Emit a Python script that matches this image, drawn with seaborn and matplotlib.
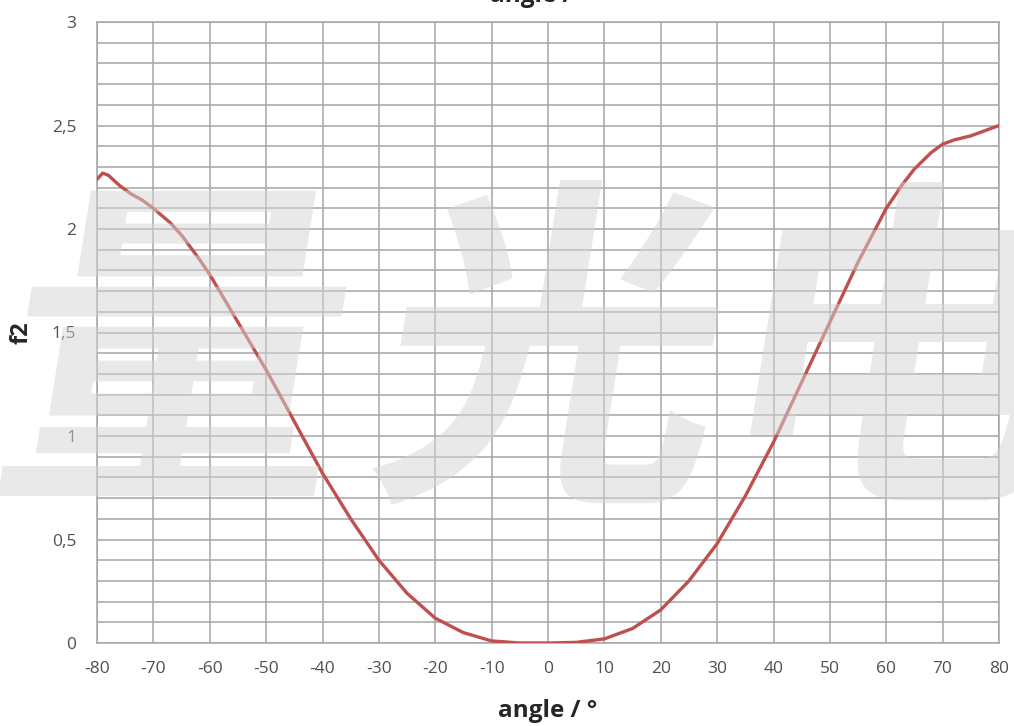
import matplotlib
matplotlib.use("Agg")
import matplotlib.pyplot as plt
import seaborn as sns
import pandas as pd
from matplotlib.ticker import MultipleLocator, FixedLocator
from matplotlib.textpath import TextPath
from matplotlib.font_manager import FontProperties
from matplotlib.patches import PathPatch
from matplotlib.transforms import Affine2D, IdentityTransform

# curve
angle = [-80, -79, -78, -76, -74, -72, -70, -67, -65, -62, -60, -55, -50, -45, -40,
         -35, -30, -25, -20, -15, -10, -5, 0, 5, 10, 15, 20, 25, 30, 35, 40,
         45, 50, 55, 60, 63, 65, 68, 70, 72, 75, 78, 80]
f2 = [2.24, 2.27, 2.26, 2.21, 2.17, 2.14, 2.10, 2.03, 1.97, 1.86, 1.78, 1.55, 1.32, 1.07, 0.82,
      0.60, 0.40, 0.24, 0.12, 0.05, 0.01, 0.0, 0.0, 0.003, 0.02, 0.07, 0.16, 0.30, 0.48, 0.71, 0.97,
      1.26, 1.55, 1.84, 2.10, 2.22, 2.29, 2.37, 2.41, 2.43, 2.45, 2.48, 2.50]

x_ticks = list(range(-80, 81, 10))
y_ticks = [0, 0.5, 1, 1.5, 2, 2.5, 3]
y_labels = ["0", "0,5", "1", "1,5", "2", "2,5", "3"]

watermark = "量光电"

df = pd.DataFrame({"angle": angle, "f2": f2})

sns.set_style("white")
plt.rcParams["font.family"] = ["Open Sans", "DejaVu Sans"]
plt.rcParams["axes.unicode_minus"] = False

fig = plt.figure(figsize=(10.14, 7.26), dpi=100)
ax = fig.add_axes([97 / 1014, 83 / 726, 902 / 1014, 621 / 726])

grid = "#a6a6a6"
sns.lineplot(data=df, x="angle", y="f2", ax=ax, color="#c0504d", linewidth=2.4, zorder=3)

ax.set_xlim(-80, 80)
ax.set_ylim(0, 3)
ax.xaxis.set_major_locator(FixedLocator(x_ticks))
ax.yaxis.set_major_locator(FixedLocator(y_ticks))
ax.yaxis.set_minor_locator(MultipleLocator(0.1))
ax.set_yticklabels(y_labels)
ax.grid(True, which="major", color=grid, linewidth=1.1)
ax.grid(True, which="minor", axis="y", color=grid, linewidth=1.1)
for s in ax.spines.values():
    s.set_color(grid)
    s.set_linewidth(1.1)

ax.tick_params(axis="x", which="major", length=6, width=1.1, color=grid,
               labelsize=12.5, labelcolor="#505050", pad=7)
ax.tick_params(axis="y", which="both", length=0, labelsize=12.5, labelcolor="#505050", pad=15)

ax.set_xlabel("angle / °", fontsize=17.5, fontweight="bold", color="#262626", labelpad=16)
ax.set_ylabel("f2", fontsize=17, fontweight="bold", color="#262626", labelpad=13)

# title cut off at the top edge of the picture
fig.text(540 / 1014, 1 - 2 / 726, "angle / °", ha="center", va="baseline",
         fontsize=17.5, fontweight="bold", color="#262626")

# watermark, slanted, one glyph at a time
fp = FontProperties(family="Noto Sans CJK SC", weight="bold")
skew = Affine2D().skew_deg(9, 0)
full = TextPath((0, 0), watermark, size=100, prop=fp).transformed(skew).get_extents()
k = 325 / full.height
lefts = [-2, 372, 750]
for ch, left in zip(watermark, lefts):
    tp = TextPath((0, 0), ch, size=100, prop=fp).transformed(skew)
    e = tp.get_extents()
    tp = tp.transformed(Affine2D().translate(-e.x0, -full.y0).scale(k).translate(left, 726 - 505))
    fig.add_artist(PathPatch(tp, facecolor="#d4d4d4", edgecolor="none", alpha=0.5,
                             transform=IdentityTransform(), zorder=10))

fig.savefig("out.png", dpi=100)
